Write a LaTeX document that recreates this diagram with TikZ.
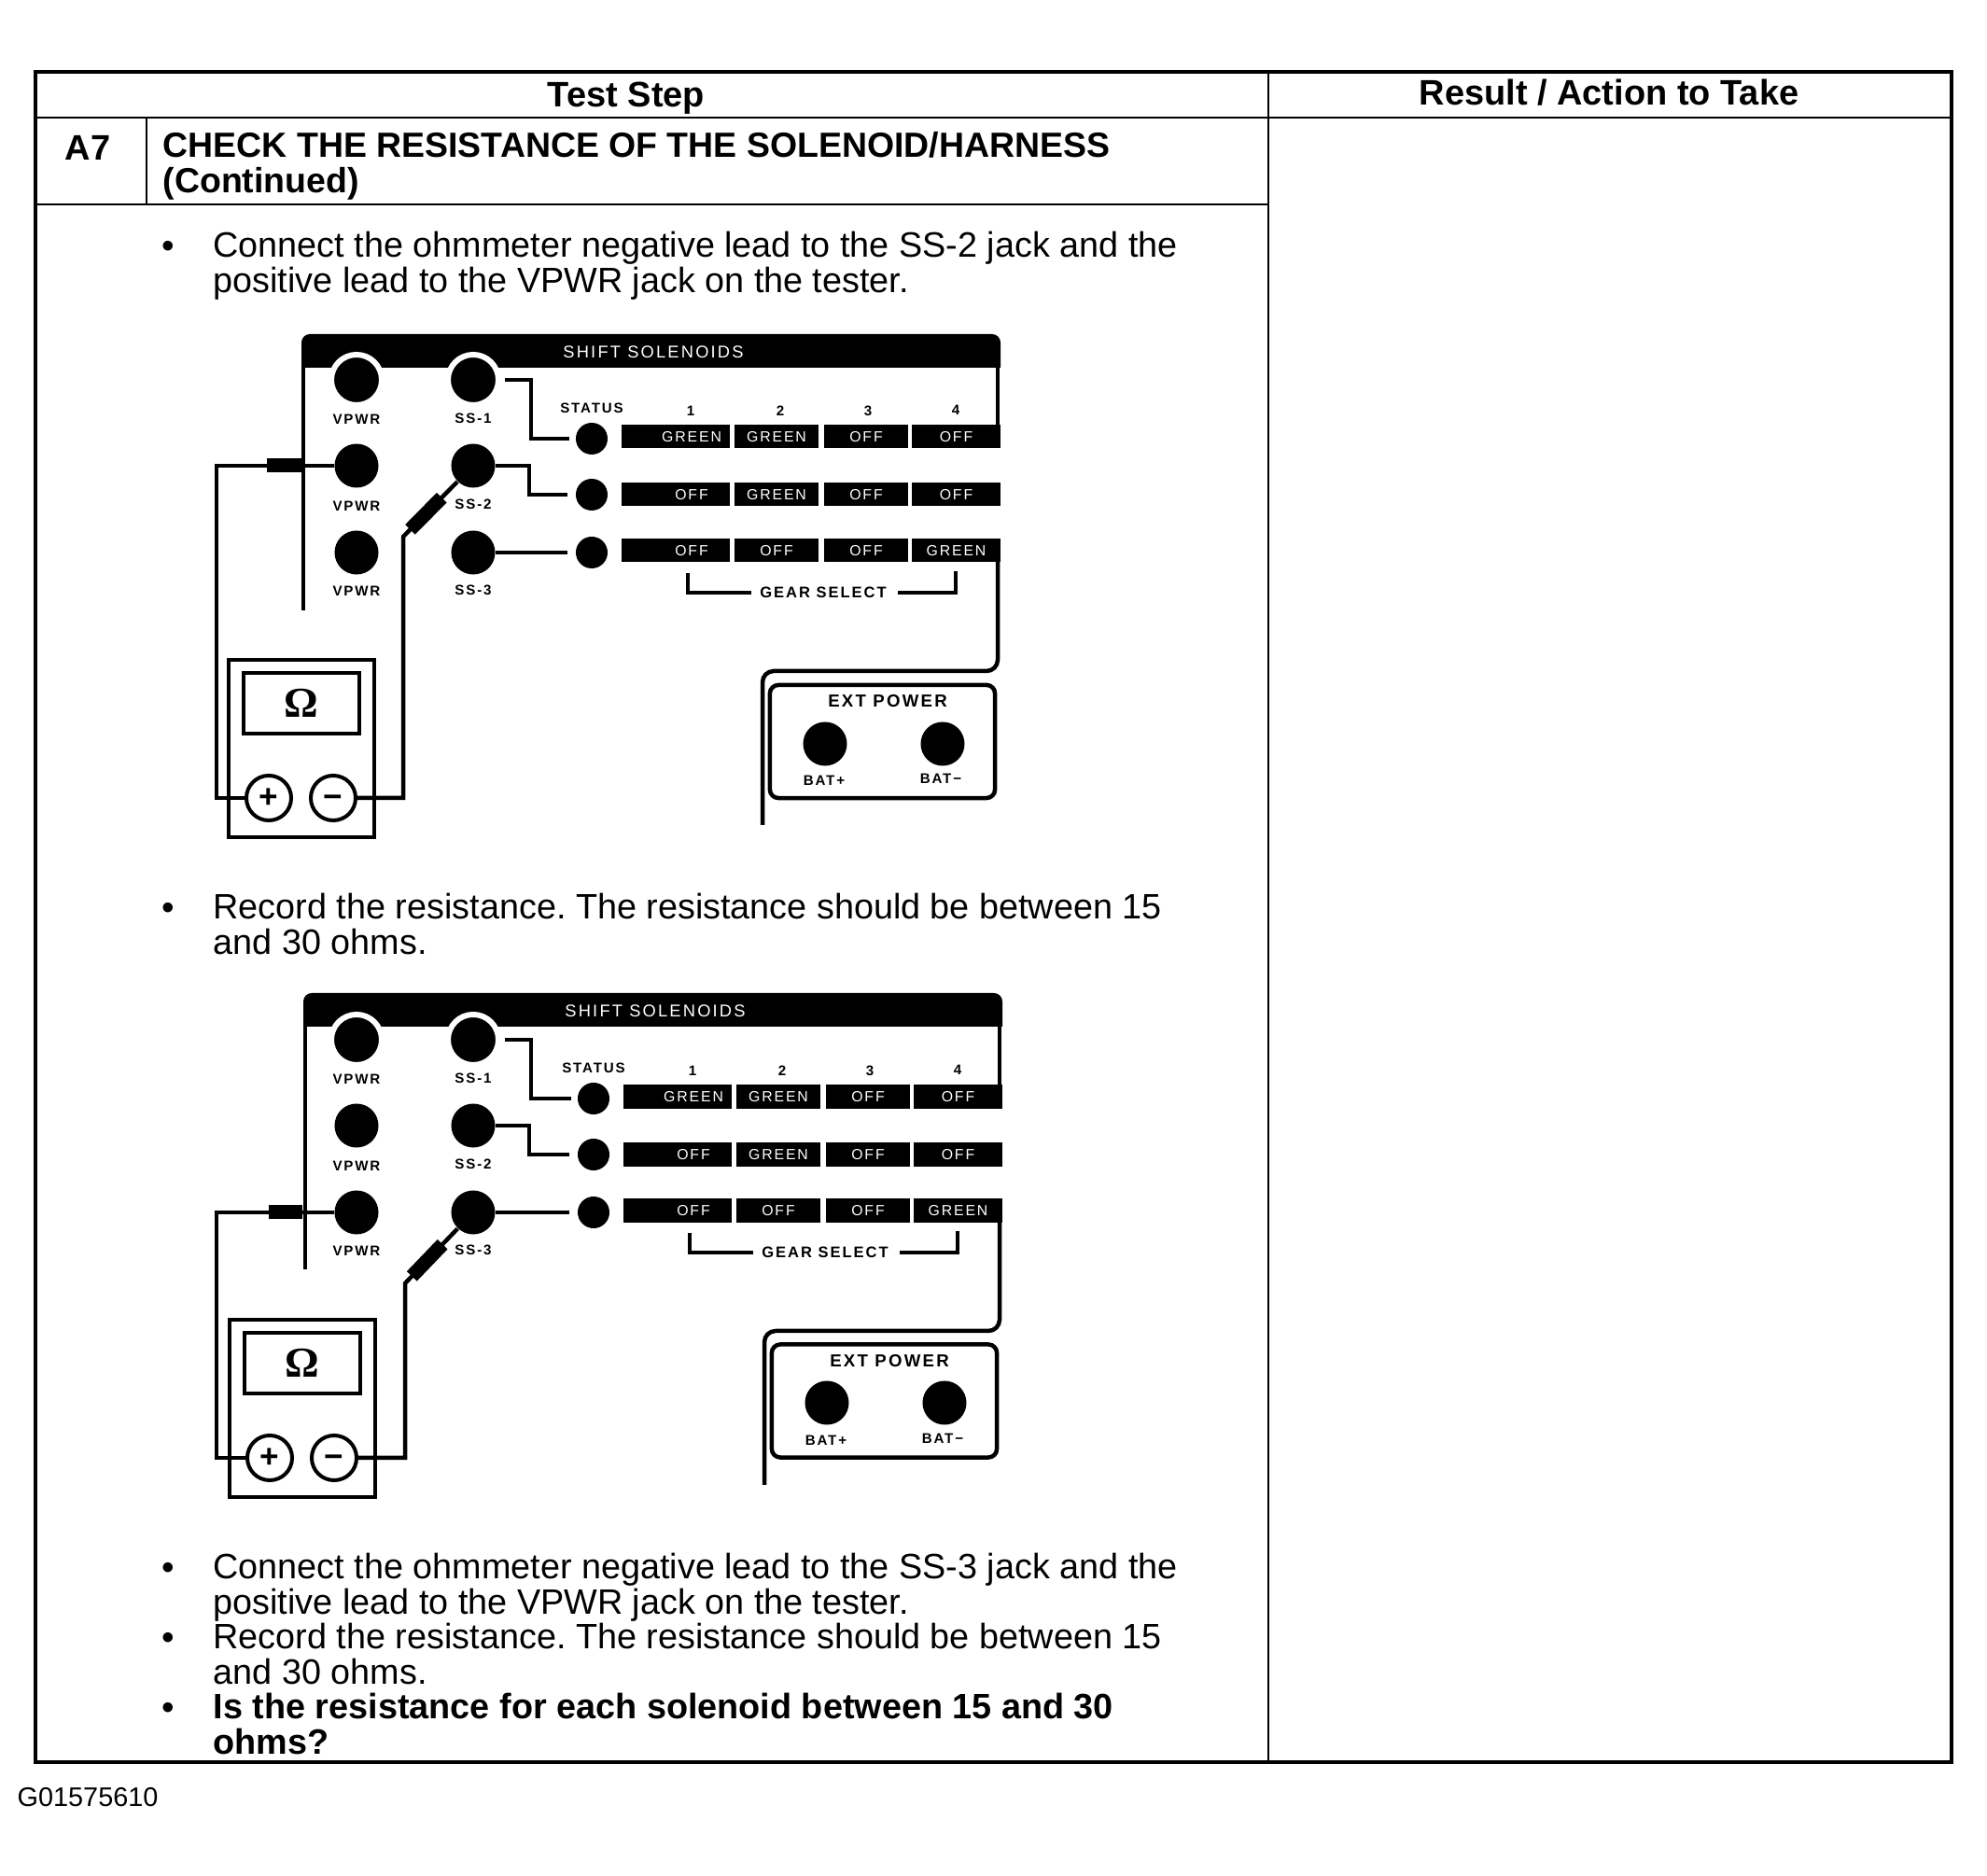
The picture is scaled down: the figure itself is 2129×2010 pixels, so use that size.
\documentclass[tikz,border=0pt]{standalone}
\usepackage{fontspec}
\setmainfont{Liberation Sans}
\newfontfamily\paneltext[LetterSpace=12]{Liberation Sans}
\newfontfamily\ohmfont{Liberation Serif}
\usetikzlibrary{calc,shapes.geometric}
\frenchspacing
\tikzset{
  bodytext/.style={anchor=west, align=left, inner sep=0pt,
    font=\fontsize{10.74}{10.9}\selectfont},
  boldtext/.style={bodytext, font=\fontsize{10.65}{10.9}\selectfont\bfseries},
  headtext/.style={inner sep=0pt, font=\fontsize{10.8}{11}\selectfont\bfseries},
  bulletmark/.style={inner sep=0pt, font=\fontsize{11}{12}\selectfont},
  gridthick/.style={line width=0.04cm},
  gridthin/.style={line width=0.025cm},
  wire/.style={line width=0.045cm},
  plug/.style={line width=0.15cm},
  jack/.style={circle, fill=black, inner sep=0pt, minimum size=0.47cm},
  topjack/.style={circle, fill=black, draw=white, line width=0.06cm, inner sep=0pt, minimum size=0.54cm},
  statusjack/.style={circle, fill=black, inner sep=0pt, minimum size=0.34cm},
  panellabel/.style={inner sep=0pt, font=\paneltext\fontsize{4.3}{5}\selectfont\bfseries},
  gearlabel/.style={inner sep=0pt, font=\paneltext\fontsize{4.7}{5}\selectfont\bfseries},
  gearbar/.style={fill=black, text=white, inner sep=0pt, minimum height=0.25cm,
    font=\paneltext\fontsize{4.5}{5}\selectfont},
  barwide/.style={gearbar, minimum width=1.16cm},
  barmid/.style={gearbar, minimum width=0.90cm},
  barend/.style={gearbar, minimum width=0.95cm},
  meterbox/.style={draw, line width=0.04cm, inner sep=0pt, minimum width=1.56cm, minimum height=1.90cm},
  meterface/.style={draw, line width=0.04cm, inner sep=0pt, minimum width=1.24cm, minimum height=0.65cm,
    font=\fontsize{13}{14}\selectfont\ohmfont\bfseries},
  terminal/.style={circle, draw, fill=white, line width=0.04cm, inner sep=0pt, minimum size=0.48cm,
    font=\fontsize{10}{11}\selectfont\bfseries},
  extbox/.style={draw, rounded corners=0.09cm, line width=0.045cm, inner sep=0pt,
    minimum width=2.41cm, minimum height=1.21cm}
}

\begin{document}
\begin{tikzpicture}[x=0.01cm, y=-0.01cm]
\useasboundingbox (0,0) rectangle (2129,2010);

%% --- Table grid -----------------------------------------------------
\draw[gridthick] (38,77) rectangle (2091,1888);
\draw[gridthin]  (38,126) -- (2091,126);
\draw[gridthin]  (38,219) -- (1359,219);
\draw[gridthin]  (1359,77) -- (1359,1888);
\draw[gridthin]  (157,126) -- (157,219);

%% --- Table headers --------------------------------------------------
\node[headtext] (teststep) at (671,105) {Test Step};
\node[headtext] (resulthead) at (1724,99) {Result / Action to Take};
\node[headtext] (stepno) at (94,158) {A7};
\node[boldtext] (steptitle) at (174,178)
  {CHECK THE RESISTANCE OF THE SOLENOID/HARNESS\\(Continued)};

%% --- Bullet items ---------------------------------------------------
\node[bulletmark] (dotone) at (180,267) {\textbullet};
\node[bodytext] (itemone) at (228,285)
  {Connect the ohmmeter negative lead to the SS-2 jack and the\\positive lead to the VPWR jack on the tester.};
\node[bulletmark] (dottwo) at (180,976) {\textbullet};
\node[bodytext] (itemtwo) at (228,990)
  {Record the resistance. The resistance should be between 15\\and 30 ohms.};
\node[bulletmark] (dotthree) at (180,1683) {\textbullet};
\node[bodytext] (itemthree) at (228,1700.5)
  {Connect the ohmmeter negative lead to the SS-3 jack and the\\positive lead to the VPWR jack on the tester.};
\node[bulletmark] (dotfour) at (180,1758) {\textbullet};
\node[bodytext] (itemfour) at (228,1772)
  {Record the resistance. The resistance should be between 15\\and 30 ohms.};
\node[bulletmark] (dotfive) at (180,1833) {\textbullet};
\node[boldtext, font=\fontsize{10.75}{10.9}\selectfont\bfseries] (itemfive) at (228,1847)
  {Is the resistance for each solenoid between 15 and 30\\ohms?};

%% --- Figure number --------------------------------------------------
\node[anchor=west, inner sep=0pt, font=\fontsize{8.2}{9}\selectfont] (figno) at (18,1926) {G01575610};

%% === Tester, leads on VPWR / SS-2 ===================================
\begin{scope}
  %% panel outline and header
  \fill (323,394) {[rounded corners=0.09cm] -- (323,358) -- (1072,358)} -- (1072,394) -- cycle;
  \draw[wire] (325,394) -- (325,654);
  \draw[wire] (1069,394) -- (1069,458);
  \node[panellabel, text=white, font=\paneltext\fontsize{5.2}{6}\selectfont] (headA) at (700,377) {SHIFT SOLENOIDS};

  %% jacks
  \node[topjack] (vpwrA1) at (382,407) {};
  \node[jack]    (vpwrA2) at (382,499) {};
  \node[jack]    (vpwrA3) at (382,592) {};
  \node[topjack] (ssA1)   at (507,407) {};
  \node[jack]    (ssA2)   at (507,499) {};
  \node[jack]    (ssA3)   at (507,592) {};
  \node[panellabel] (vlabA1) at (382,449) {VPWR};
  \node[panellabel] (vlabA2) at (382,542) {VPWR};
  \node[panellabel] (vlabA3) at (382,633) {VPWR};
  \node[panellabel] (slabA1) at (507,448) {SS-1};
  \node[panellabel] (slabA2) at (507,540) {SS-2};
  \node[panellabel] (slabA3) at (507,632) {SS-3};

  %% status column
  \node[panellabel] (statusA) at (634,437) {STATUS};
  \node[statusjack] (statA1) at (634,470) {};
  \node[statusjack] (statA2) at (634,530) {};
  \node[statusjack] (statA3) at (634,592) {};
  \draw[wire, shorten <=0.04cm, shorten >=0.06cm] (ssA1.east) -- ++(32,0) |- (statA1.west);
  \draw[wire, shorten >=0.08cm] (ssA2.east) -- ++(36,0) |- (statA2.west);
  \draw[wire, shorten >=0.08cm] (ssA3.east) -- (statA3.west);

  %% gear columns
  \node[panellabel] (numA1) at (740,440) {1};
  \node[panellabel] (numA2) at (836,440) {2};
  \node[panellabel] (numA3) at (930,440) {3};
  \node[panellabel] (numA4) at (1024,439) {4};
  \node[barwide] (barA11) at (724,468)  {\hspace{0.34cm}GREEN};
  \node[barmid]  (barA12) at (832,468)  {GREEN};
  \node[barmid]  (barA13) at (928,468)  {OFF};
  \node[barend]  (barA14) at (1024.5,468) {OFF};
  \node[barwide] (barA21) at (724,530)  {\hspace{0.34cm}OFF};
  \node[barmid]  (barA22) at (832,530)  {GREEN};
  \node[barmid]  (barA23) at (928,530)  {OFF};
  \node[barend]  (barA24) at (1024.5,530) {OFF};
  \node[barwide] (barA31) at (724,590)  {\hspace{0.34cm}OFF};
  \node[barmid]  (barA32) at (832,590)  {OFF};
  \node[barmid]  (barA33) at (928,590)  {OFF};
  \node[barend]  (barA34) at (1024.5,590) {GREEN};

  %% gear select bracket
  \node[gearlabel] (gearA) at (882,635) {GEAR SELECT};
  \draw[wire, shorten >=0.09cm] (737,614) |- (gearA.west);
  \draw[wire, shorten <=0.12cm] (gearA.east) -| (1024,612);

  %% ext power
  \draw[wire, rounded corners=0.12cm] (1069,590) -- (1069,719) -- (817,719) -- (817,884);
  \node[extbox] (extA) at (945.5,794.5) {};
  \node[panellabel, font=\paneltext\fontsize{5.3}{6}\selectfont\bfseries] (exttitleA) at (951,751) {EXT POWER};
  \node[jack] (batpA) at (884,797) {};
  \node[jack] (batmA) at (1010,797) {};
  \node[panellabel] (batplabA) at (883,836) {BAT+};
  \node[panellabel] (batmlabA) at (1008,834) {BAT−};

  %% ohmmeter
  \node[meterbox] (meterA) at (323,802) {};
  \node[meterface] (faceA) at (323,753.5) {Ω};
  \node[terminal] (plusA) at (288,855) {+};
  \node[terminal] (minusA) at (357,855) {\vphantom{+}−};

  %% leads
  \coordinate (posbendA) at (232,499);
  \coordinate (negbendA) at (432,575);
  \draw[wire] (vpwrA2.west) -- (posbendA) |- (plusA.west);
  \draw[wire] (minusA.east) -| (negbendA) -- (ssA2);
  \draw[plug] (286,499) -- (324,499);
  \draw[plug] ($(negbendA)!0.10!(ssA2)$) -- ($(negbendA)!0.55!(ssA2)$);
\end{scope}

%% === Tester, leads on VPWR / SS-3 ===================================
\begin{scope}[shift={(2,706)}]
  %% panel outline and header
  \fill (323,394) {[rounded corners=0.09cm] -- (323,358) -- (1072,358)} -- (1072,394) -- cycle;
  \draw[wire] (325,394) -- (325,654);
  \draw[wire] (1069,394) -- (1069,458);
  \node[panellabel, text=white, font=\paneltext\fontsize{5.2}{6}\selectfont] (headB) at (700,377) {SHIFT SOLENOIDS};

  %% jacks
  \node[topjack] (vpwrB1) at (380,408) {};
  \node[jack]    (vpwrB2) at (380,500) {};
  \node[jack]    (vpwrB3) at (380,593) {};
  \node[topjack] (ssB1)   at (505,408) {};
  \node[jack]    (ssB2)   at (505,500) {};
  \node[jack]    (ssB3)   at (505,593) {};
  \node[panellabel] (vlabB1) at (380,450) {VPWR};
  \node[panellabel] (vlabB2) at (380,543) {VPWR};
  \node[panellabel] (vlabB3) at (380,634) {VPWR};
  \node[panellabel] (slabB1) at (505,449) {SS-1};
  \node[panellabel] (slabB2) at (505,541) {SS-2};
  \node[panellabel] (slabB3) at (505,633) {SS-3};

  %% status column
  \node[panellabel] (statusB) at (634,438) {STATUS};
  \node[statusjack] (statB1) at (634,471) {};
  \node[statusjack] (statB2) at (634,531) {};
  \node[statusjack] (statB3) at (634,593) {};
  \draw[wire, shorten <=0.04cm, shorten >=0.06cm] (ssB1.east) -- ++(32,0) |- (statB1.west);
  \draw[wire, shorten >=0.08cm] (ssB2.east) -- ++(36,0) |- (statB2.west);
  \draw[wire, shorten >=0.08cm] (ssB3.east) -- (statB3.west);

  %% gear columns
  \node[panellabel] (numB1) at (740,441) {1};
  \node[panellabel] (numB2) at (836,441) {2};
  \node[panellabel] (numB3) at (930,441) {3};
  \node[panellabel] (numB4) at (1024,440) {4};
  \node[barwide] (barB11) at (724,469)  {\hspace{0.34cm}GREEN};
  \node[barmid]  (barB12) at (832,469)  {GREEN};
  \node[barmid]  (barB13) at (928,469)  {OFF};
  \node[barend]  (barB14) at (1024.5,469) {OFF};
  \node[barwide] (barB21) at (724,531)  {\hspace{0.34cm}OFF};
  \node[barmid]  (barB22) at (832,531)  {GREEN};
  \node[barmid]  (barB23) at (928,531)  {OFF};
  \node[barend]  (barB24) at (1024.5,531) {OFF};
  \node[barwide] (barB31) at (724,591)  {\hspace{0.34cm}OFF};
  \node[barmid]  (barB32) at (832,591)  {OFF};
  \node[barmid]  (barB33) at (928,591)  {OFF};
  \node[barend]  (barB34) at (1024.5,591) {GREEN};

  %% gear select bracket
  \node[gearlabel] (gearB) at (882,636) {GEAR SELECT};
  \draw[wire, shorten >=0.09cm] (737,615) |- (gearB.west);
  \draw[wire, shorten <=0.12cm] (gearB.east) -| (1024,613);

  %% ext power
  \draw[wire, rounded corners=0.12cm] (1069,591) -- (1069,720) -- (817,720) -- (817,885);
  \node[extbox] (extB) at (945.5,795) {};
  \node[panellabel, font=\paneltext\fontsize{5.3}{6}\selectfont\bfseries] (exttitleB) at (951,752) {EXT POWER};
  \node[jack] (batpB) at (884,797) {};
  \node[jack] (batmB) at (1010,797) {};
  \node[panellabel] (batplabB) at (883,837) {BAT+};
  \node[panellabel] (batmlabB) at (1008,835) {BAT−};

  %% ohmmeter
  \node[meterbox] (meterB) at (322,803) {};
  \node[meterface] (faceB) at (322,754.5) {Ω};
  \node[terminal] (plusB) at (287,856) {+};
  \node[terminal] (minusB) at (356,856) {\vphantom{+}−};

  %% leads
  \coordinate (posbendB) at (230,593);
  \coordinate (negbendB) at (432,669);
  \draw[wire] (vpwrB3.west) -- (posbendB) |- (plusB.west);
  \draw[wire] (minusB.east) -| (negbendB) -- (ssB3);
  \draw[plug] (286,593) -- (322,593);
  \draw[plug] ($(negbendB)!0.10!(ssB3)$) -- ($(negbendB)!0.55!(ssB3)$);
\end{scope}

\end{tikzpicture}
\end{document}
